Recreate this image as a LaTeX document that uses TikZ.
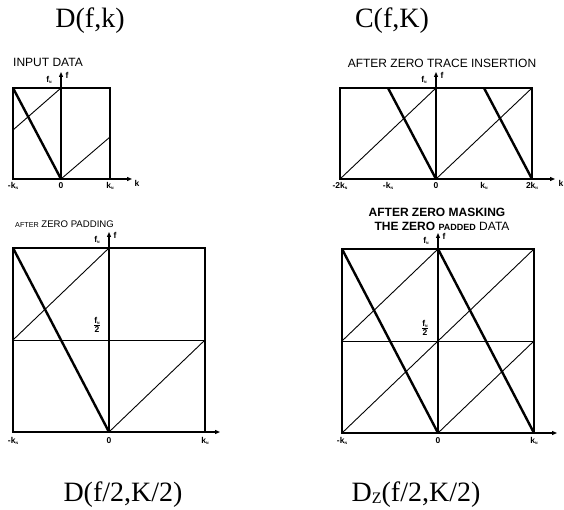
\documentclass[tikz,border=0pt]{standalone}
\usepackage{fontspec}
\setmainfont{Liberation Serif}
\setsansfont{Liberation Sans}
\usetikzlibrary{arrows.meta}

\begin{document}
\begin{tikzpicture}[x=1pt,y=-1pt,
  frame/.style={draw=black,line width=1.1pt},
  thn/.style={draw=black,line width=0.9pt},
  thk/.style={draw=black,line width=2.4pt},
  axis/.style={draw=black,line width=1.1pt,-{Triangle[length=5pt,width=4pt]}},
  ax/.style={font=\sffamily\bfseries\fontsize{8.5}{9}\selectfont,inner sep=0.5pt},
  ttl/.style={font=\sffamily\fontsize{12}{13}\selectfont,inner sep=0pt},
  big/.style={font=\fontsize{28}{30}\selectfont,inner sep=0pt}]
  \useasboundingbox (0,0) rectangle (564,510);
  \newcommand{\sN}{\raisebox{-1.2pt}{\fontsize{3.5}{4}\selectfont N}}
  \newcommand{\halffn}{\begin{tabular}{@{}c@{}}f\sN\\[-1.5pt]\hline\noalign{\vskip0.5pt}2\end{tabular}}
  % one panel: name, left, zero, right, top, bottom, end of k axis
  \newcommand{\panel}[7]{%
    \coordinate (#1bl) at (#2,#6); \coordinate (#1br) at (#4,#6);
    \coordinate (#1tl) at (#2,#5); \coordinate (#1tr) at (#4,#5);
    \coordinate (#1o) at (#3,#6); \coordinate (#1t) at (#3,#5);
    \coordinate (#1ftip) at (#3,#5-16); \coordinate (#1ktip) at (#7,#6);
    \draw[frame] (#1bl) rectangle (#1tr);
    \draw[axis] (#1o) -- (#1ftip);
    \draw[axis] (#1bl) -- (#1ktip);
    \node[ax] (#1fn) at (#3-12,#5-8) {f\sN};
    \node[ax] (#1f) at (#3+6,#5-13) {f};}
  \panel{a}{13}{61}{110}{88}{179}{132}
  \panel{b}{340}{436}{532}{88}{179}{555}
  \panel{c}{13}{109}{205}{248}{432}{220}
  \panel{d}{342}{438}{534}{249}{433}{557}
  % input data
  \coordinate (al) at (13,130); \coordinate (ar) at (110,137);
  \draw[thk] (atl) -- (ao);
  \draw[thn] (al) -- (at);
  \draw[thn] (ao) -- (ar);
  % zero trace insertion
  \coordinate (bkm) at (388,88); \coordinate (bkp) at (484,88);
  \draw[thn] (bbl) -- (bt); \draw[thn] (bo) -- (btr);
  \draw[thk] (bkm) -- (bo); \draw[thk] (bkp) -- (bbr);
  % zero padding
  \coordinate (cml) at (13,340); \coordinate (cmr) at (205,340);
  \draw[thn] (cml) -- (cmr);
  \draw[thk] (ctl) -- (co);
  \draw[thn] (cml) -- (ct); \draw[thn] (co) -- (cmr);
  % zero masking
  \coordinate (dml) at (342,341); \coordinate (dmr) at (534,341);
  \coordinate (dm) at (438,341);
  \draw[thn] (dml) -- (dmr);
  \draw[thk] (dtl) -- (do); \draw[thk] (dt) -- (dbr);
  \draw[thn] (dml) -- (dt); \draw[thn] (dm) -- (dtr);
  \draw[thn] (dbl) -- (dm); \draw[thn] (do) -- (dmr);
  % k labels
  \node[ax] (ak1) at (13,186) {-k\sN};
  \node[ax] (ak2) at (61,186) {0};
  \node[ax] (ak3) at (110,186) {k\sN};
  \node[ax] (ak) at (137,183) {k};
  \node[ax] (bk1) at (340,186) {-2k\sN};
  \node[ax] (bk2) at (388,186) {-k\sN};
  \node[ax] (bk3) at (436,186) {0};
  \node[ax] (bk4) at (484,186) {k\sN};
  \node[ax] (bk5) at (532,186) {2k\sN};
  \node[ax] (bk) at (561,183) {k};
  \node[ax] (ck1) at (13,441) {-k\sN};
  \node[ax] (ck2) at (109,441) {0};
  \node[ax] (ck3) at (205,441) {k\sN};
  \node[ax] (dk1) at (342,441) {-k\sN};
  \node[ax] (dk2) at (438,441) {0};
  \node[ax] (dk3) at (534,441) {k\sN};
  \node[ax] (chalf) at (97,326) {\halffn};
  \node[ax] (dhalf) at (425,329) {\halffn};
  % titles
  \node[ttl,anchor=west] (ta) at (13,62) {INPUT DATA};
  \node[ttl] (tb) at (442,63) {AFTER ZERO TRACE INSERTION};
  \node[anchor=west,inner sep=0pt,font=\sffamily\fontsize{9.6}{10}\selectfont] (tc) at (15,224)
    {{\fontsize{7.2}{8}\selectfont AFTER} ZERO PADDING};
  \node[ttl,font=\sffamily\bfseries\fontsize{12}{13}\selectfont] (td1) at (437,212) {AFTER ZERO MASKING};
  \node[ttl] (td2) at (442,226)
    {\bfseries THE ZERO {\fontsize{9}{10}\selectfont PADDED} \mdseries DATA};
  \node[big] (da) at (90,21) {D(f,k)};
  \node[big] (db) at (392,21) {C(f,K)};
  \node[big] (dc) at (123,495) {D(f/2,K/2)};
  \node[big] (dd) at (416,495) {D\raisebox{-2pt}{\fontsize{16}{16}\selectfont Z}(f/2,K/2)};
\end{tikzpicture}
\end{document}
